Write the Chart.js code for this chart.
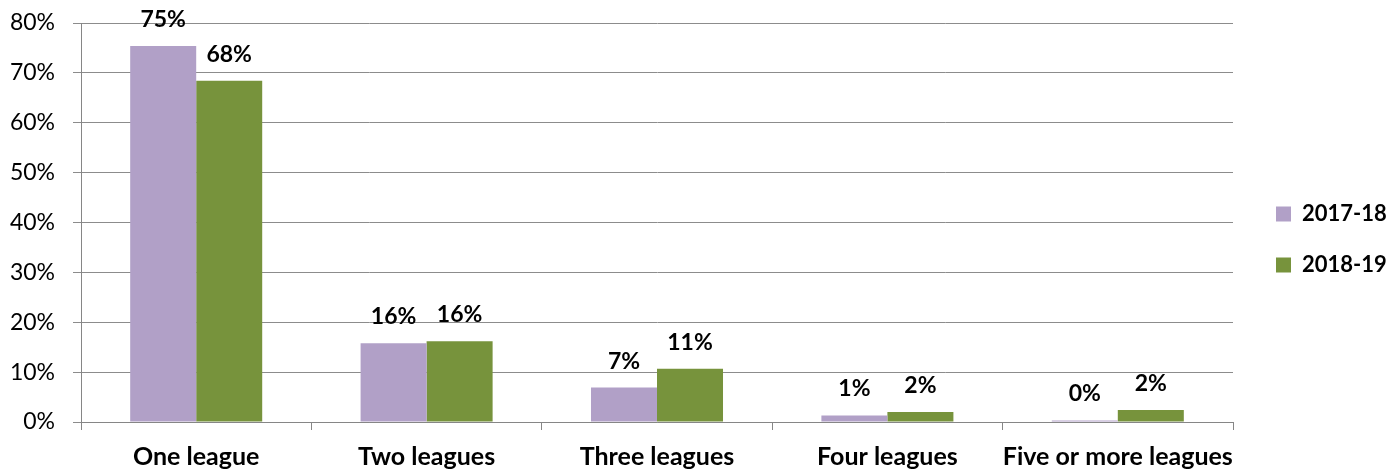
<!DOCTYPE html>
<html>
<head>
<meta charset="utf-8">
<script src="https://cdn.jsdelivr.net/npm/chart.js@4"></script>
<style>
  body { margin: 0; background: #fff; }
  #wrap { width: 1400px; height: 474px; }
</style>
</head>
<body>
<div id="wrap"><canvas id="grafica"></canvas></div>
<script>
var categorias = ['One league', 'Two leagues', 'Three leagues', 'Four leagues', 'Five or more leagues'];
var serie1718 = [75.4, 15.8, 6.9, 1.3, 0.3];
var serie1819 = [68.4, 16.2, 10.7, 2.0, 2.4];
var etiquetas = ['2017-18', '2018-19'];

var fuente = 'Lato, "Open Sans", sans-serif';

// etiquetas de valor sobre cada barra
var valoresArriba = {
    id: 'valoresArriba',
    afterDatasetsDraw: function(chart) {
        var ctx = chart.ctx;
        ctx.save();
        ctx.font = 'bold 23px ' + fuente;
        ctx.fillStyle = '#000';
        ctx.textAlign = 'center';
        ctx.textBaseline = 'bottom';
        chart.data.datasets.forEach(function(ds, i) {
            var meta = chart.getDatasetMeta(i);
            meta.data.forEach(function(bar, j) {
                ctx.fillText(Math.round(ds.data[j]) + '%', bar.x, bar.y - 15);
            });
        });
        ctx.restore();
    }
};

// ancho fijo de la leyenda y un poco de separacion del area de la grafica
var leyendaFija = {
    id: 'leyendaFija',
    beforeLayout: function(chart) {
        var lg = chart.legend;
        if (lg && !lg._fijo) {
            var f = lg.fit;
            lg.fit = function() {
                f.call(this);
                this.width = 167;
            };
            lg._fijo = true;
        }
    },
    afterLayout: function(chart) {
        var lg = chart.legend;
        if (lg) {
            lg.left += 14;
            lg.right += 14;
            lg.top -= 9;
            lg.bottom -= 9;
        }
    }
};

var config = {
    type: 'bar',
    data: {
        labels: categorias,
        datasets: [
            {
                label: etiquetas[0],
                data: serie1718,
                backgroundColor: '#b1a0c7',
                barPercentage: 1,
                categoryPercentage: 0.573
            },
            {
                label: etiquetas[1],
                data: serie1819,
                backgroundColor: '#77933c',
                barPercentage: 1,
                categoryPercentage: 0.573
            }
        ]
    },
    options: {
        responsive: true,
        maintainAspectRatio: false,
        animation: false,
        layout: {
            padding: { top: 23, left: 0, right: 0, bottom: 0 }
        },
        plugins: {
            tooltip: { enabled: false },
            legend: {
                position: 'right',
                align: 'center',
                labels: {
                    boxWidth: 15,
                    boxHeight: 15,
                    padding: 29,
                    color: '#000',
                    font: { family: fuente, size: 22, weight: 'bold' }
                }
            }
        },
        scales: {
            x: {
                afterFit: function(scale) { scale.height = 52; },
                grid: {
                    drawOnChartArea: false,
                    drawTicks: true,
                    tickLength: 8,
                    color: '#868686'
                },
                border: { color: '#868686', width: 1 },
                ticks: {
                    color: '#000',
                    padding: 12,
                    maxRotation: 0,
                    autoSkip: false,
                    font: { family: fuente, size: 25, weight: 'bold' }
                }
            },
            y: {
                afterFit: function(scale) {
                    scale.width = 81;
                    scale.paddingTop = 0;
                    scale.paddingBottom = 0;
                },
                min: 0,
                max: 80,
                ticks: {
                    stepSize: 10,
                    color: '#000',
                    padding: 18,
                    font: { family: fuente, size: 23 },
                    callback: function(v) { return v + '%'; }
                },
                grid: {
                    color: '#8c8c8c',
                    tickLength: 8
                },
                border: { color: '#868686', width: 1 }
            }
        }
    },
    plugins: [valoresArriba, leyendaFija]
};

var grafica = new Chart(document.getElementById('grafica'), config);
</script>
</body>
</html>
